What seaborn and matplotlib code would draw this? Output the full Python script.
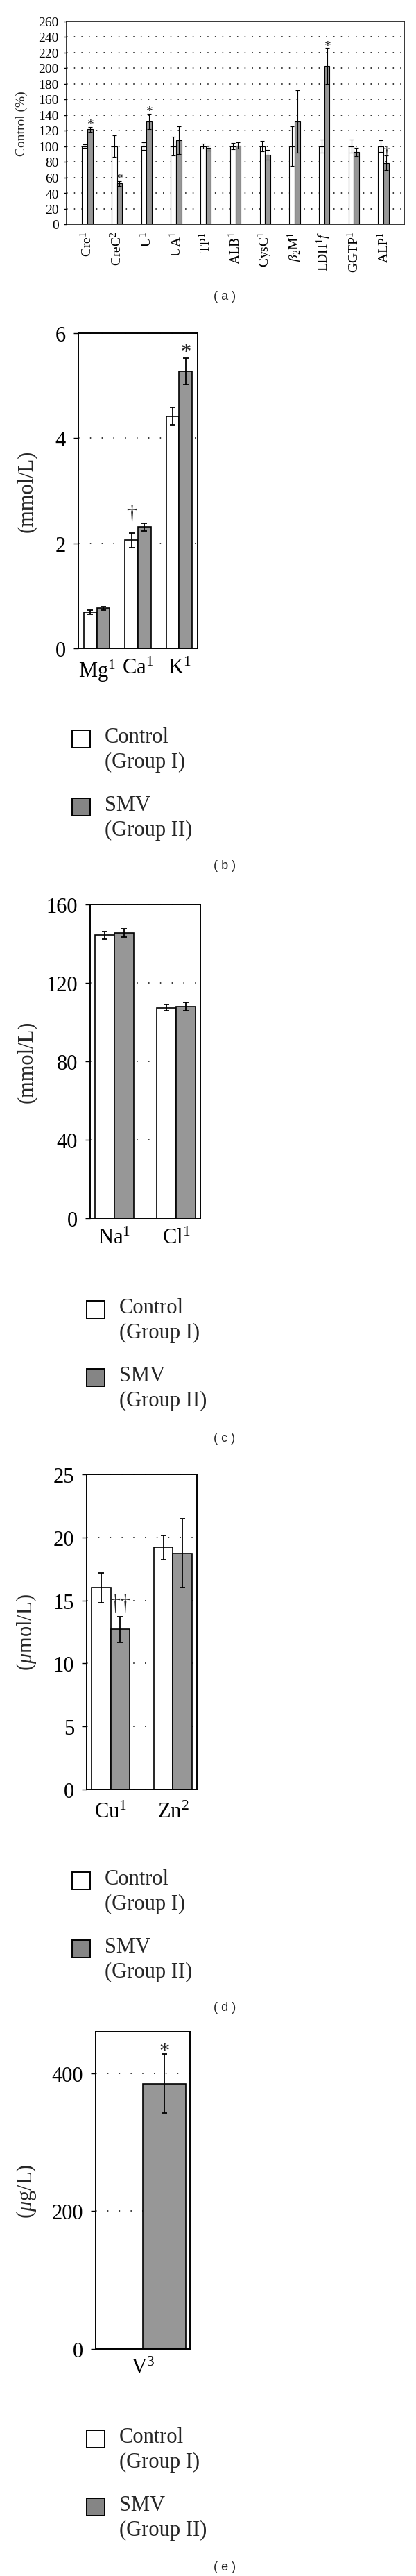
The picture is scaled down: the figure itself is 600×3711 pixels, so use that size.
import pandas as pd
import seaborn as sns
import matplotlib.pyplot as plt
from matplotlib.patches import Rectangle

# (a) serum biochemistry, % of control
labels_a = [r"Cre$^1$", r"CreC$^2$", r"U$^1$", r"UA$^1$", r"TP$^1$", r"ALB$^1$",
            r"CysC$^1$", r"$\beta_2$M$^1$", r"LDH$^1f$", r"GGTP$^1$", r"ALP$^1$"]
ctrl_a = [100, 100, 100, 100, 100, 100, 100, 100, 100, 100, 100]
ctrl_a_sd = [2.5, 14, 5, 12, 3, 4, 6.5, 25, 8.5, 8.5, 7.5]
smv_a = [121.5, 52.3, 131.5, 107.5, 97.4, 100.8, 89, 131.5, 202.6, 92.2, 78.6]
smv_a_sd = [3, 3.2, 10, 18, 3, 4, 6.5, 40, 23, 5.5, 9]
ctrl_a_marks = ["", "", "", "", "", "", "", "", "", "", ""]
smv_a_marks = ["*", "*", "*", "", "", "", "", "", "*", "", "†"]

# (b) mmol/L
labels_b = [r"Mg$^1$", r"Ca$^1$", r"K$^1$"]
ctrl_b = [0.69, 2.06, 4.42]
ctrl_b_sd = [0.04, 0.14, 0.16]
smv_b = [0.76, 2.31, 5.27]
smv_b_sd = [0.03, 0.07, 0.25]
ctrl_b_marks = ["", "†", ""]
smv_b_marks = ["", "", "*"]

# (c) mmol/L
labels_c = [r"Na$^1$", r"Cl$^1$"]
ctrl_c = [144.3, 107.3]
ctrl_c_sd = [2.0, 1.6]
smv_c = [145.6, 108.0]
smv_c_sd = [2.1, 2.2]
ctrl_c_marks = ["", ""]
smv_c_marks = ["", ""]

# (d) umol/L
labels_d = [r"Cu$^1$", r"Zn$^2$"]
ctrl_d = [16.0, 19.2]
ctrl_d_sd = [1.2, 0.95]
smv_d = [12.7, 18.75]
smv_d_sd = [1.0, 2.7]
ctrl_d_marks = ["", ""]
smv_d_marks = ["††", ""]

# (e) ug/L
labels_e = [r"V$^3$"]
ctrl_e = [1.5]
ctrl_e_sd = [0]
smv_e = [385]
smv_e_sd = [43]
ctrl_e_marks = [""]
smv_e_marks = ["*"]

groups = ["Control", "SMV"]
key_text = [("Control", "(Group I)"), ("SMV", "(Group II)")]

sns.set_style("ticks")
plt.rcParams["font.family"] = ["Liberation Serif", "DejaVu Serif"]
plt.rcParams["mathtext.fontset"] = "custom"
plt.rcParams["mathtext.rm"] = "Liberation Serif"
plt.rcParams["mathtext.it"] = "Liberation Serif:italic"
plt.rcParams["mathtext.bf"] = "Liberation Serif:bold"

W, H = 600, 3712
BAR_GREY = "#979797"
KEY_GREY = "#858585"

fig = plt.figure(figsize=(6, 37.12), dpi=100, facecolor="white")


def make_ax(left, top, right, bottom):
    return fig.add_axes([left / W, 1 - bottom / H, (right - left) / W, (bottom - top) / H])


def draw_panel(ax, labels, ctrl, ctrl_sd, smv, smv_sd, ctrl_marks, smv_marks,
               ymax, yticks, ylabel, st):
    df = pd.DataFrame({
        "analyte": labels + labels,
        "group": ["Control"] * len(labels) + ["SMV"] * len(labels),
        "value": ctrl + smv,
    })
    sns.barplot(data=df, x="analyte", y="value", hue="group", order=labels,
                hue_order=groups, palette={"Control": "white", "SMV": BAR_GREY},
                edgecolor="black", linewidth=st["edge"], width=st["width"],
                errorbar=None, saturation=1, legend=False, ax=ax)
    for cont, sds, marks in zip(ax.containers, [ctrl_sd, smv_sd], [ctrl_marks, smv_marks]):
        for p, sd, mk in zip(cont, sds, marks):
            x = p.get_x() + p.get_width() / 2
            y = p.get_height()
            if sd > 0:
                ax.errorbar(x, y, yerr=sd, fmt="none", ecolor="black",
                            elinewidth=st["elw"], capsize=st["cap"], capthick=st["elw"])
            if mk:
                ax.annotate(mk, xy=(x, y + sd), xytext=(0, st["mark_off"].get(mk, 0)),
                            textcoords="offset points", ha="center", va="baseline",
                            fontsize=st["fs"])
    ax.set_ylim(0, ymax)
    ax.set_yticks(yticks)
    ax.set_axisbelow(True)
    ax.yaxis.grid(True, linestyle=st["grid"], color="black", linewidth=1.1)
    ax.xaxis.grid(False)
    for s in ax.spines.values():
        s.set_visible(True)
        s.set_color("black")
        s.set_linewidth(st["spine"])
    ax.tick_params(axis="y", direction="out", length=st["tick"], width=1.0,
                   labelsize=st["fs"], pad=st["ypad"], colors="black")
    ax.tick_params(axis="x", length=0, labelsize=st["xfs"], pad=st["xpad"],
                   rotation=st["rot"], colors="black")
    ax.set_xlabel("")
    ax.set_ylabel(ylabel, fontsize=st["fs"], va="center")
    left_px = ax.get_position().x0 * W
    width_px = ax.get_position().width * W
    ax.yaxis.set_label_coords((st["ylab_x"] - left_px) / width_px, 0.5)


def add_key(box_x, box_top):
    for i, (name, sub) in enumerate(key_text):
        top = box_top + i * 98
        face = "white" if i == 0 else KEY_GREY
        fig.add_artist(Rectangle((box_x / W, 1 - (top + 25) / H), 26 / W, 25 / H,
                                 transform=fig.transFigure, facecolor=face,
                                 edgecolor="black", linewidth=1.4))
        fig.text((box_x + 47) / W, 1 - (top + 10) / H, name, ha="left", va="center", fontsize=22)
        fig.text((box_x + 47) / W, 1 - (top + 45) / H, sub, ha="left", va="center", fontsize=22)


def panel_tag(y, letter):
    fig.text(324 / W, 1 - y / H, f"( {letter} )", ha="center", va="center",
             family="Liberation Sans", fontsize=13)


style_a = dict(edge=0.8, width=0.36, elw=0.8, cap=2.2, fs=14, xfs=14, rot=90,
               grid=(0, (1, 6)), spine=1.1, tick=3, ypad=5, xpad=7, ylab_x=31,
               mark_off={"*": -1, "†": 2})
style_big = dict(edge=1.2, elw=1.3, cap=2.9, fs=22, xfs=22, rot=0,
                 grid=(0, (1, 10)), spine=1.4, tick=5, ypad=8, ylab_x=38,
                 mark_off={"*": 1, "†": 14, "††": 8})

ax_a = make_ax(96, 31.5, 583, 324)
draw_panel(ax_a, labels_a, ctrl_a, ctrl_a_sd, smv_a, smv_a_sd, ctrl_a_marks, smv_a_marks,
           260, list(range(0, 261, 20)), "Control (%)", style_a)
panel_tag(428, "a")

ax_b = make_ax(113, 481, 285, 935)
draw_panel(ax_b, labels_b, ctrl_b, ctrl_b_sd, smv_b, smv_b_sd, ctrl_b_marks, smv_b_marks,
           6, [0, 2, 4, 6], "(mmol/L)", dict(style_big, width=0.63, xpad=10))
add_key(104, 1053)
panel_tag(1248, "b")

ax_c = make_ax(130, 1304, 289, 1756)
draw_panel(ax_c, labels_c, ctrl_c, ctrl_c_sd, smv_c, smv_c_sd, ctrl_c_marks, smv_c_marks,
           160, [0, 40, 80, 120, 160], "(mmol/L)", dict(style_big, width=0.62, xpad=10))
add_key(125, 1875)
panel_tag(2073, "c")

ax_d = make_ax(125, 2125, 284, 2579)
draw_panel(ax_d, labels_d, ctrl_d, ctrl_d_sd, smv_d, smv_d_sd, ctrl_d_marks, smv_d_marks,
           25, [0, 5, 10, 15, 20, 25], r"($\mu$mol/L)", dict(style_big, width=0.61, xpad=13))
add_key(104, 2698)
panel_tag(2893, "d")

ax_e = make_ax(138, 2928, 274, 3385)
draw_panel(ax_e, labels_e, ctrl_e, ctrl_e_sd, smv_e, smv_e_sd, ctrl_e_marks, smv_e_marks,
           460, [0, 200, 400], r"($\mu$g/L)", dict(style_big, width=0.59, xpad=9,
                                                    mark_off={"*": -3}))
add_key(125, 3502)
panel_tag(3699, "e")

fig.savefig("out.png", dpi=100, facecolor="white")
